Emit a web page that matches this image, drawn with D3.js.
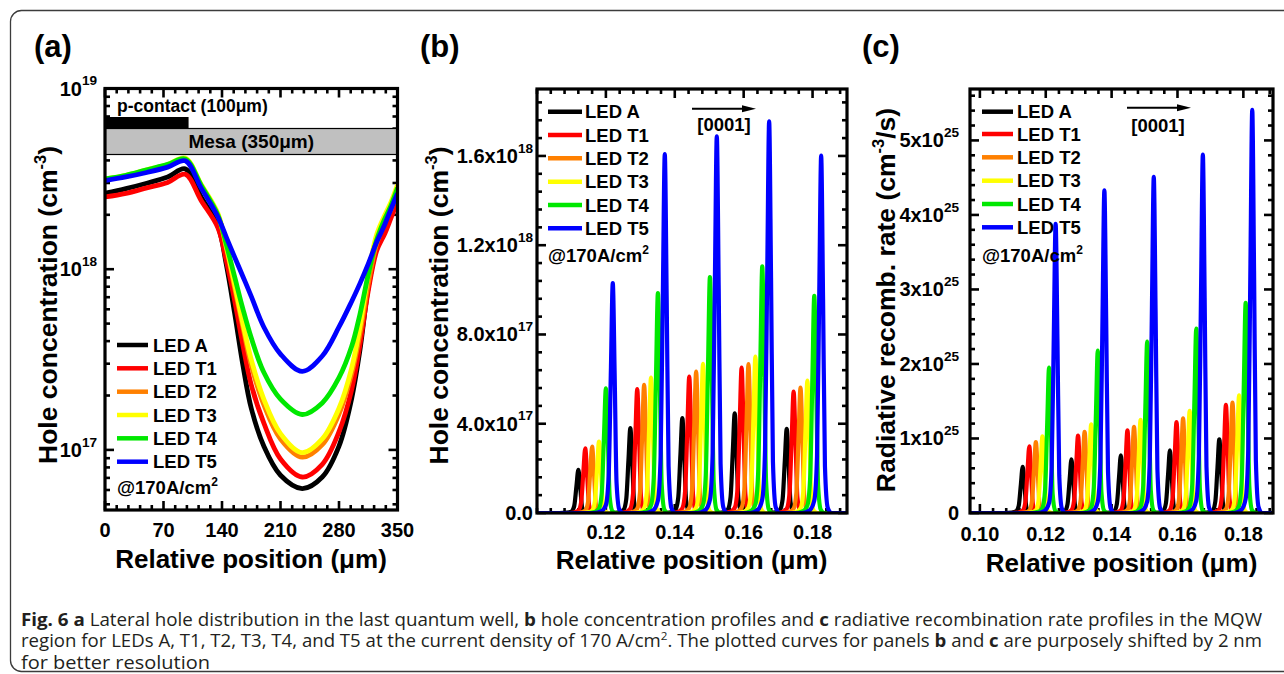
<!DOCTYPE html>
<html>
<head>
<meta charset="utf-8">
<script src="https://cdn.jsdelivr.net/npm/d3@7"></script>
<style>
  body { margin: 0; background: #fff; }
  svg { display: block; }
  text { font-family: "Liberation Sans", Arial, Helvetica, sans-serif; font-weight: bold; fill: #000; }
  .cap { font-family: "Open Sans", "Noto Sans", sans-serif; font-weight: normal; fill: #231f20; }
  .cap .b { font-weight: bold; }
</style>
</head>
<body>
<svg id="fig" width="1284" height="674"></svg>
<script>
// ---------------- data ----------------
const ledNames  = ["LED A", "LED T1", "LED T2", "LED T3", "LED T4", "LED T5"];
const ledColors = ["#000000", "#ff0000", "#ff8000", "#ffff00", "#00e800", "#0000ff"];

// (a) lateral hole concentration in the last quantum well (cm^-3) vs. relative position (um)
const lateralPos = [0, 25, 50, 75, 96, 115, 135, 145, 155, 165, 175, 190, 210, 236, 260, 280, 295, 305, 315, 325, 335, 342, 350];
const lateralA  = [2.63e18, 2.79e18, 2.99e18, 3.24e18, 3.59e18, 2.51e18, 1.74e18, 1.07e18, 5.75e17, 2.95e17, 1.70e17, 1.05e17, 7.24e16, 6.11e16, 7.08e16, 1.05e17, 1.91e17, 3.55e17, 7.94e17, 1.32e18, 1.74e18, 2.04e18, 2.45e18];
const lateralT1 = [2.51e18, 2.63e18, 2.82e18, 3.02e18, 3.35e18, 2.40e18, 1.70e18, 1.12e18, 6.76e17, 3.80e17, 2.29e17, 1.41e17, 8.91e16, 7.08e16, 8.32e16, 1.26e17, 2.14e17, 3.80e17, 7.59e17, 1.26e18, 1.58e18, 1.91e18, 2.37e18];
const lateralT2 = [3.13e18, 3.27e18, 3.51e18, 3.76e18, 4.07e18, 2.88e18, 2.00e18, 1.32e18, 7.94e17, 4.79e17, 2.95e17, 1.78e17, 1.15e17, 9.12e16, 1.07e17, 1.58e17, 2.63e17, 4.37e17, 8.32e17, 1.38e18, 1.82e18, 2.14e18, 2.69e18];
const lateralT3 = [3.16e18, 3.31e18, 3.55e18, 3.80e18, 4.12e18, 2.95e18, 2.04e18, 1.35e18, 8.32e17, 5.01e17, 3.16e17, 1.91e17, 1.23e17, 9.66e16, 1.15e17, 1.70e17, 2.82e17, 4.79e17, 9.33e17, 1.55e18, 2.00e18, 2.34e18, 2.93e18];
const lateralT4 = [3.16e18, 3.31e18, 3.55e18, 3.80e18, 4.07e18, 2.92e18, 2.00e18, 1.38e18, 9.12e17, 6.03e17, 4.17e17, 2.69e17, 1.91e17, 1.57e17, 1.82e17, 2.51e17, 3.72e17, 5.62e17, 9.33e17, 1.45e18, 1.91e18, 2.24e18, 2.82e18];
const lateralT5 = [3.09e18, 3.24e18, 3.43e18, 3.67e18, 3.98e18, 2.82e18, 1.95e18, 1.51e18, 1.17e18, 9.12e17, 7.08e17, 4.79e17, 3.39e17, 2.72e17, 3.31e17, 4.79e17, 6.61e17, 8.32e17, 1.07e18, 1.41e18, 1.78e18, 2.14e18, 2.63e18];
const contactWidth = 100;  // p-contact, um
const mesaWidth = 350;     // mesa, um

// (b) hole concentration peaks in the five quantum wells (cm^-3)
const holeWellPos = [0.1120, 0.1271, 0.1422, 0.1574, 0.1725];  // LED A peak positions, um
const holePeakA  = [1.93e17, 3.80e17, 4.25e17, 4.47e17, 3.77e17];
const holePeakT1 = [2.90e17, 5.55e17, 6.11e17, 6.52e17, 5.44e17];
const holePeakT2 = [2.97e17, 5.74e17, 6.34e17, 6.67e17, 5.62e17];
const holePeakT3 = [3.20e17, 6.07e17, 6.68e17, 7.01e17, 5.93e17];
const holePeakT4 = [5.59e17, 9.85e17, 1.057e18, 1.105e18, 9.73e17];
const holePeakT5 = [1.03e18, 1.608e18, 1.688e18, 1.755e18, 1.601e18];

// (c) radiative recombination rate peaks (cm^-3/s)
const radWellPos = [0.1130, 0.1278, 0.1428, 0.1577, 0.1727];
const radPeakA  = [0.62e25, 0.72e25, 0.775e25, 0.84e25, 0.99e25];
const radPeakT1 = [0.895e25, 1.04e25, 1.11e25, 1.22e25, 1.45e25];
const radPeakT2 = [0.95e25, 1.09e25, 1.155e25, 1.27e25, 1.48e25];
const radPeakT3 = [1.03e25, 1.19e25, 1.25e25, 1.37e25, 1.58e25];
const radPeakT4 = [1.95e25, 2.18e25, 2.30e25, 2.475e25, 2.82e25];
const radPeakT5 = [3.88e25, 4.33e25, 4.51e25, 4.81e25, 5.41e25];

const curveShift = 0.002;  // successive LEDs shifted by 2 nm
// shape of one well peak: [offset from peak (um), fraction of peak value]
const peakProfile = [[-0.0055, 0], [-0.0033, 0.008], [-0.0020, 0.035], [-0.0012, 0.16], [-0.00055, 0.62],
                     [0, 1], [0.00055, 0.6], [0.0011, 0.13], [0.0019, 0.015], [0.0030, 0]];

// tick values
const ticksAx = [0, 70, 140, 210, 280, 350];
const ticksAy = [1e17, 1e18, 1e19];
const ticksBx = [0.12, 0.14, 0.16, 0.18];
const ticksBy = [0, 4e17, 8e17, 1.2e18, 1.6e18];
const labelsBy = ["0.0", ["4.0x10", "17"], ["8.0x10", "17"], ["1.2x10", "18"], ["1.6x10", "18"]];
const ticksCx = [0.10, 0.12, 0.14, 0.16, 0.18];
const ticksCy = [0, 1e25, 2e25, 3e25, 4e25, 5e25];
const labelsCy = ["0", ["1x10", "25"], ["2x10", "25"], ["3x10", "25"], ["4x10", "25"], ["5x10", "25"]];

// ---------------- drawing ----------------
const svg = d3.select("#fig");
const FONT_TICK = 20;
const FONT_TITLE = 26.5;

// outer rounded border
svg.append("rect").attr("x", 10.5).attr("y", 10.5).attr("width", 1290).attr("height", 661)
  .attr("rx", 11).attr("fill", "none").attr("stroke", "#3c3c3c").attr("stroke-width", 1.3);

function frameAndTicks(g, x, y, box, xMaj, xMin, yMaj, yMin) {
  const [x0, x1, y0, y1] = box;
  const t = g.append("g").attr("stroke", "#000").attr("stroke-width", 2.6);
  const vt = (vals, len) => {
    t.selectAll(null).data(vals).join("line")
      .attr("x1", d => x(d)).attr("x2", d => x(d)).attr("y1", y1).attr("y2", y1 - len);
    t.selectAll(null).data(vals).join("line")
      .attr("x1", d => x(d)).attr("x2", d => x(d)).attr("y1", y0).attr("y2", y0 + len);
  };
  const ht = (vals, len) => {
    t.selectAll(null).data(vals).join("line")
      .attr("y1", d => y(d)).attr("y2", d => y(d)).attr("x1", x0).attr("x2", x0 + len);
    t.selectAll(null).data(vals).join("line")
      .attr("y1", d => y(d)).attr("y2", d => y(d)).attr("x1", x1).attr("x2", x1 - len);
  };
  vt(xMaj, 9); vt(xMin, 5); ht(yMaj, 9); ht(yMin, 5);
}
function frameRect(g, box) {
  const [x0, x1, y0, y1] = box;
  g.append("rect").attr("x", x0).attr("y", y0).attr("width", x1 - x0).attr("height", y1 - y0)
    .attr("fill", "none").attr("stroke", "#000").attr("stroke-width", 3.2);
}
function sci(sel, parts, fs) {
  if (typeof parts === "string") { sel.text(parts); return; }
  sel.append("tspan").text(parts[0]);
  sel.append("tspan").attr("dy", -fs * 0.52).attr("font-size", fs * 0.68).text(parts[1]);
}
function clip(id, box) {
  const [x0, x1, y0, y1] = box;
  svg.append("clipPath").attr("id", id).append("rect")
    .attr("x", x0).attr("y", y0).attr("width", x1 - x0).attr("height", y1 - y0);
}
function legend(g, x, rows, len, tx, atY) {
  ledNames.forEach((n, i) => {
    g.append("line").attr("x1", x).attr("x2", x + len).attr("y1", rows[i]).attr("y2", rows[i])
      .attr("stroke", ledColors[i]).attr("stroke-width", 4.5);
    g.append("text").attr("x", tx).attr("y", rows[i] + 6.5).attr("font-size", 18.5).text(n);
  });
  const at = g.append("text").attr("x", x).attr("y", atY).attr("font-size", 18.5);
  at.append("tspan").text("@170A/cm");
  at.append("tspan").attr("dy", -8).attr("font-size", 12).text("2");
}
function xTitle(g, cx, base) {
  g.append("text").attr("x", cx).attr("y", base).attr("text-anchor", "middle").attr("font-size", 26)
    .text("Relative position (μm)");
}
function yTitle(g, bx, cy, pre, post) {
  const t = g.append("text").attr("transform", `translate(${bx},${cy}) rotate(-90)`)
    .attr("text-anchor", "middle").attr("font-size", FONT_TITLE);
  t.append("tspan").text(pre);
  t.append("tspan").attr("dy", -11).attr("font-size", 16.5).text("-3");
  t.append("tspan").attr("dy", 11).text(post);
}
function arrow(g, xa, xb, yy, cx, base) {
  g.append("line").attr("x1", xa).attr("x2", xb - 10).attr("y1", yy).attr("y2", yy)
    .attr("stroke", "#000").attr("stroke-width", 2);
  g.append("path").attr("d", `M${xb},${yy} L${xb - 14},${yy - 3.5} L${xb - 14},${yy + 3.5} Z`).attr("fill", "#000");
  g.append("text").attr("x", cx).attr("y", base).attr("text-anchor", "middle").attr("font-size", 18.5).text("[0001]");
}
function peakSeries(wellPos, peaks, k, domain) {
  const pts = [[domain[0], 0]];
  wellPos.forEach((p, i) => {
    peakProfile.forEach(([dx, f]) => pts.push([p + k * curveShift + dx, peaks[i] * f]));
  });
  pts.push([domain[1], 0]);
  return pts;
}
const minorsBetween = (lo, hi, step, majors) =>
  d3.range(Math.round(lo / step), Math.round(hi / step) + 1).map(i => +(i * step).toPrecision(6))
    .filter(v => v >= lo - 1e-12 && v <= hi + 1e-12 && !majors.some(m => Math.abs(m - v) < step * 1e-3));

// ---------- panel (a) ----------
{
  const box = [105, 397.5, 88.5, 510];
  const x = d3.scaleLinear([0, 350], [box[0], box[1]]);
  const y = d3.scaleLog([4.65e16, 1e19], [box[3], box[2]]);
  const g = svg.append("g");
  clip("clipA", box);

  const series = [lateralA, lateralT1, lateralT2, lateralT3, lateralT4, lateralT5];
  const line = d3.line().x((d, i) => x(lateralPos[i])).y(d => y(d)).curve(d3.curveCatmullRom.alpha(0.5));

  const yMinor = [];
  [1e16, 1e17, 1e18].forEach(dec => d3.range(2, 10).forEach(m => { const v = m * dec; if (v > 4.65e16) yMinor.push(v); }));
  frameAndTicks(g, x, y, box, ticksAx, minorsBetween(0, 350, 14, ticksAx), ticksAy, yMinor);

  const cg = g.append("g").attr("clip-path", "url(#clipA)");
  series.forEach((s, i) => cg.append("path").attr("d", line(s)).attr("fill", "none")
    .attr("stroke", ledColors[i]).attr("stroke-width", 4.8).attr("stroke-linejoin", "round"));

  // contact / mesa bars
  g.append("rect").attr("x", x(0)).attr("y", 117).attr("width", x(contactWidth) - x(0)).attr("height", 11.5).attr("fill", "#000");
  g.append("rect").attr("x", x(0)).attr("y", 128.5).attr("width", x(mesaWidth) - x(0)).attr("height", 26)
    .attr("fill", "#c0c0c0").attr("stroke", "#000").attr("stroke-width", 1.2);
  g.append("text").attr("x", 117).attr("y", 112).attr("font-size", 17.5).text("p-contact (100μm)");
  g.append("text").attr("x", (x(0) + x(mesaWidth)) / 2).attr("y", 148).attr("text-anchor", "middle")
    .attr("font-size", 19).text("Mesa (350μm)");
  frameRect(g, box);

  g.selectAll(null).data(ticksAx).join("text").attr("x", d => x(d)).attr("y", 537)
    .attr("text-anchor", "middle").attr("font-size", FONT_TICK).text(d => d);
  ticksAy.forEach(v => {
    const t = g.append("text").attr("x", 97).attr("y", y(v) + 7).attr("text-anchor", "end").attr("font-size", FONT_TICK);
    sci(t, ["10", String(Math.round(Math.log10(v)))], FONT_TICK);
  });

  legend(g, 117, [345, 368.3, 391.7, 415, 438.3, 461.7], 31, 153, 494);
  xTitle(g, 251, 568);
  yTitle(g, 57, 305, "Hole concentration (cm", ")");
  g.append("text").attr("x", 34).attr("y", 57).attr("font-size", 31).text("(a)");
}

// ---------- panel (b) ----------
{
  const box = [537, 847, 89, 513];
  const dom = [0.10, 0.19];
  const x = d3.scaleLinear(dom, [box[0], box[1]]);
  const y = d3.scaleLinear([0, 1.9e18], [box[3], box[2]]);
  const g = svg.append("g");
  clip("clipB", box);

  frameAndTicks(g, x, y, box, ticksBx, minorsBetween(0.10, 0.19, 0.004, ticksBx.concat([0.10])).concat([0.10]),
    ticksBy, minorsBetween(0, 1.9e18, 0.8e17, ticksBy));

  const peaks = [holePeakA, holePeakT1, holePeakT2, holePeakT3, holePeakT4, holePeakT5];
  const line = d3.line().x(d => x(d[0])).y(d => y(d[1])).curve(d3.curveMonotoneX);
  const cg = g.append("g").attr("clip-path", "url(#clipB)");
  peaks.forEach((p, i) => cg.append("path").attr("d", line(peakSeries(holeWellPos, p, i, dom)))
    .attr("fill", "none").attr("stroke", ledColors[i]).attr("stroke-width", 4.2).attr("stroke-linejoin", "round"));
  frameRect(g, box);

  g.selectAll(null).data(ticksBx).join("text").attr("x", d => x(d)).attr("y", 539)
    .attr("text-anchor", "middle").attr("font-size", FONT_TICK).text(d => d.toFixed(2));
  ticksBy.forEach((v, i) => {
    const t = g.append("text").attr("x", 533).attr("y", y(v) + 7).attr("text-anchor", "end").attr("font-size", FONT_TICK);
    sci(t, labelsBy[i], FONT_TICK);
  });

  legend(g, 548, [111.7, 135, 158.3, 181.7, 205, 228.3], 34, 585, 262);
  arrow(g, 692, 756, 108.7, 724, 131);
  xTitle(g, 691.5, 568.5);
  yTitle(g, 448, 305.5, "Hole concentration (cm", ")");
  g.append("text").attr("x", 420).attr("y", 57).attr("font-size", 31).text("(b)");
}

// ---------- panel (c) ----------
{
  const box = [970, 1273, 89, 513];
  const dom = [0.097, 0.189];
  const x = d3.scaleLinear(dom, [box[0], box[1]]);
  const y = d3.scaleLinear([0, 5.69e25], [box[3], box[2]]);
  const g = svg.append("g");
  clip("clipC", box);

  frameAndTicks(g, x, y, box, ticksCx, minorsBetween(0.10, 0.188, 0.004, ticksCx),
    ticksCy, minorsBetween(0, 5.69e25, 0.2e25, ticksCy));

  const peaks = [radPeakA, radPeakT1, radPeakT2, radPeakT3, radPeakT4, radPeakT5];
  const line = d3.line().x(d => x(d[0])).y(d => y(d[1])).curve(d3.curveMonotoneX);
  const cg = g.append("g").attr("clip-path", "url(#clipC)");
  peaks.forEach((p, i) => cg.append("path").attr("d", line(peakSeries(radWellPos, p, i, dom)))
    .attr("fill", "none").attr("stroke", ledColors[i]).attr("stroke-width", 4.2).attr("stroke-linejoin", "round"));
  frameRect(g, box);

  g.selectAll(null).data(ticksCx).join("text").attr("x", d => x(d)).attr("y", 540.5)
    .attr("text-anchor", "middle").attr("font-size", FONT_TICK).text(d => d.toFixed(2));
  ticksCy.forEach((v, i) => {
    const t = g.append("text").attr("x", 959).attr("y", y(v) + 7).attr("text-anchor", "end").attr("font-size", FONT_TICK);
    sci(t, labelsCy[i], FONT_TICK);
  });

  legend(g, 982, [111.7, 134, 157.3, 180.7, 204, 227.3], 31, 1017, 262);
  arrow(g, 1127, 1191, 107.7, 1158, 131.5);
  xTitle(g, 1121.5, 571.5);
  const t = g.append("text").attr("transform", "translate(895,300) rotate(-90)")
    .attr("text-anchor", "middle").attr("font-size", FONT_TITLE);
  t.append("tspan").text("Radiative recomb. rate (cm");
  t.append("tspan").attr("dy", -11).attr("font-size", 16.5).text("-3");
  t.append("tspan").attr("dy", 11).text("/s)");
  g.append("text").attr("x", 862).attr("y", 57).attr("font-size", 31).text("(c)");
}

// ---------- caption ----------
{
  const cap = svg.append("g").attr("class", "cap");
  const lines = [
    [["Fig. 6 a", true], [" Lateral hole distribution in the last quantum well, ", false], ["b", true],
     [" hole concentration profiles and ", false], ["c", true], [" radiative recombination rate profiles in the MQW", false]],
    [["region for LEDs A, T1, T2, T3, T4, and T5 at the current density of 170 A/cm", false], ["2", "sup"],
     [". The plotted curves for panels ", false], ["b", true], [" and ", false], ["c", true],
     [" are purposely shifted by 2 nm", false]],
    [["for better resolution", false]]
  ];
  const widths = [1241, 1241, 189];
  lines.forEach((ln, i) => {
    const t = cap.append("text").attr("class", "cap").attr("x", 21).attr("y", 625.5 + i * 21.5).attr("font-size", 17.5)
      .attr("textLength", widths[i]).attr("lengthAdjust", "spacingAndGlyphs");
    let up = false;
    ln.forEach(([s, b]) => {
      const sp = t.append("tspan").text(s);
      if (b === true) sp.attr("class", "b");
      if (b === "sup") { sp.attr("dy", -7).attr("font-size", 11); up = true; }
      else if (up) { sp.attr("dy", 7); up = false; }
    });
  });
}
</script>
</body>
</html>
